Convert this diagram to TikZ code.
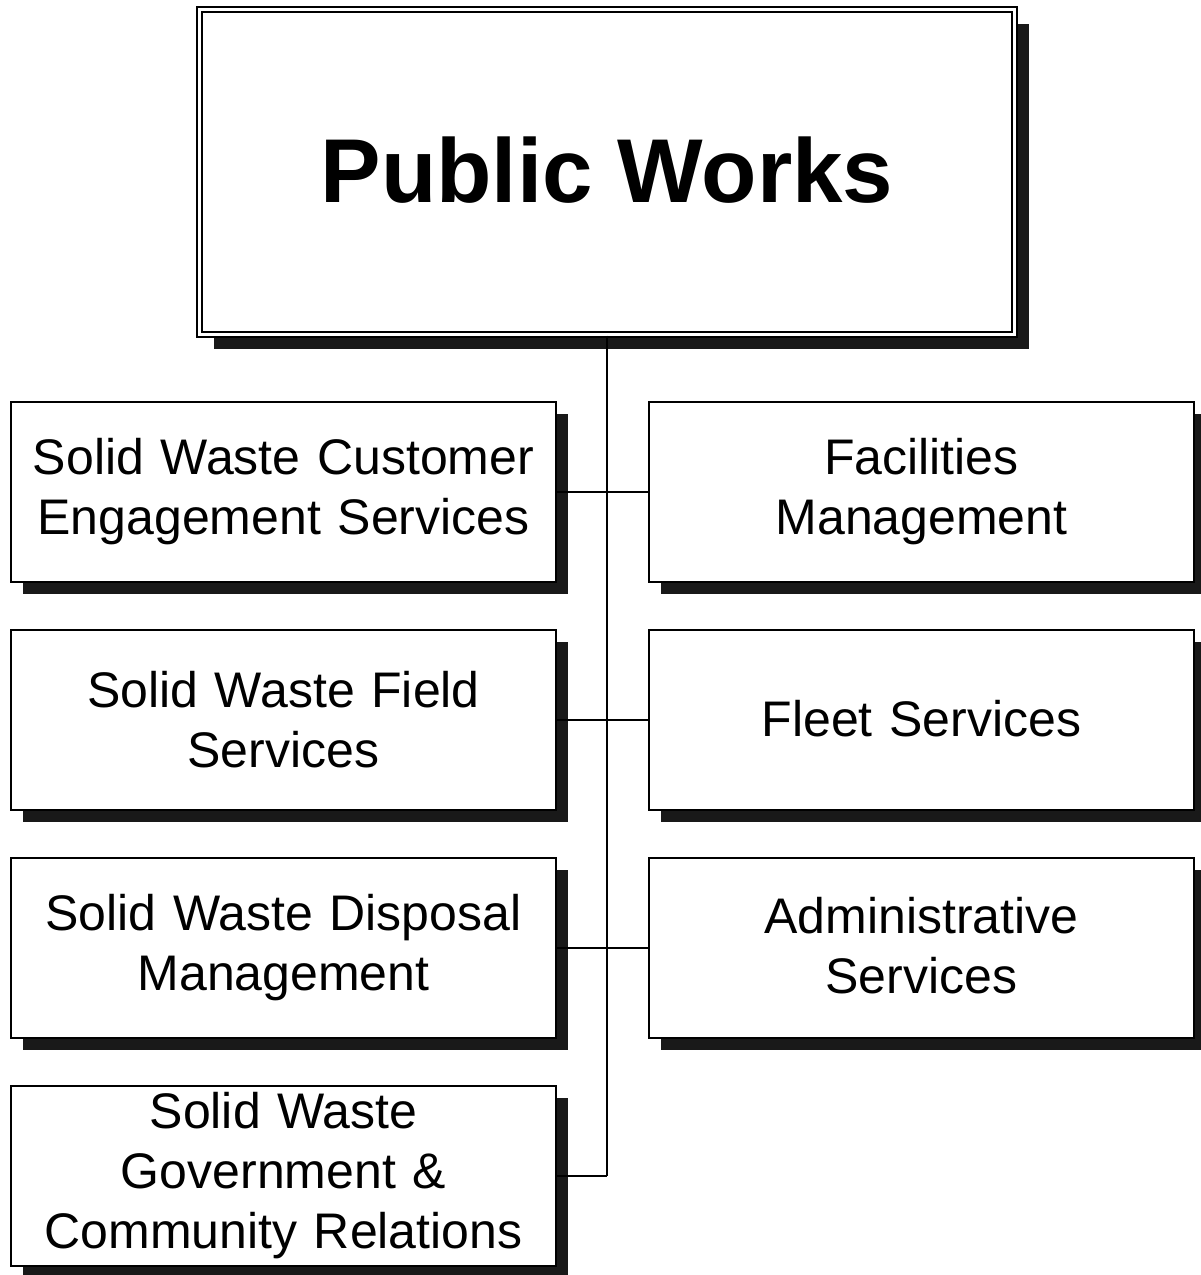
\documentclass[tikz,border=0pt]{standalone}
\usepackage{fontspec}
\setmainfont{Liberation Sans}
\usetikzlibrary{shadows}
\colorlet{shadowc}{black!90}
\begin{document}
\begin{tikzpicture}[x=0.75pt,y=-0.75pt,
  boxshadow/.style={drop shadow={shadow xshift=9pt,shadow yshift=-9pt,fill=shadowc,opacity=1}},
  box/.style={draw=black, line width=1.5pt, fill=white, boxshadow,
    minimum width=408.75pt, minimum height=135pt, inner sep=0pt,
    align=center, text width=395pt, font=\fontsize{37.5}{45}\selectfont},
  topbox/.style={draw=black, double=white, double distance=2.25pt, line width=1.5pt,
    fill=white, drop shadow={shadow xshift=10.5pt,shadow yshift=-10.5pt,fill=shadowc,opacity=1},
    minimum width=611.25pt, minimum height=243.75pt, inner sep=0pt,
    font=\fontsize{68}{80}\selectfont\bfseries},
  conn/.style={line width=1.5pt}]
\useasboundingbox (0,0) rectangle (1201,1275);
\node[topbox] (pw) at (607,172) {\raisebox{3pt}{Public Works}};
\node[box] (l1) at (283.5,492) {Solid Waste Customer\\Engagement Services};
\node[box] (l2) at (283.5,720) {Solid Waste Field\\Services};
\node[box] (l3) at (283.5,948) {Solid Waste Disposal\\Management};
\node[box] (l4) at (283.5,1176) {Solid Waste\\Government \&\\Community Relations};
\node[box] (r1) at (921.5,492) {Facilities\\Management};
\node[box] (r2) at (921.5,720) {\raisebox{3pt}{Fleet Services}};
\node[box] (r3) at (921.5,948) {\raisebox{4pt}{Administrative}\\\raisebox{4pt}{Services}};
\coordinate (trunk) at (607,1176);
\draw[conn] (pw.south) -- (trunk);
\draw[conn] (l1.east) -- (r1.west);
\draw[conn] (l2.east) -- (r2.west);
\draw[conn] (l3.east) -- (r3.west);
\draw[conn] (l4.east) -- (trunk);
\end{tikzpicture}
\end{document}
